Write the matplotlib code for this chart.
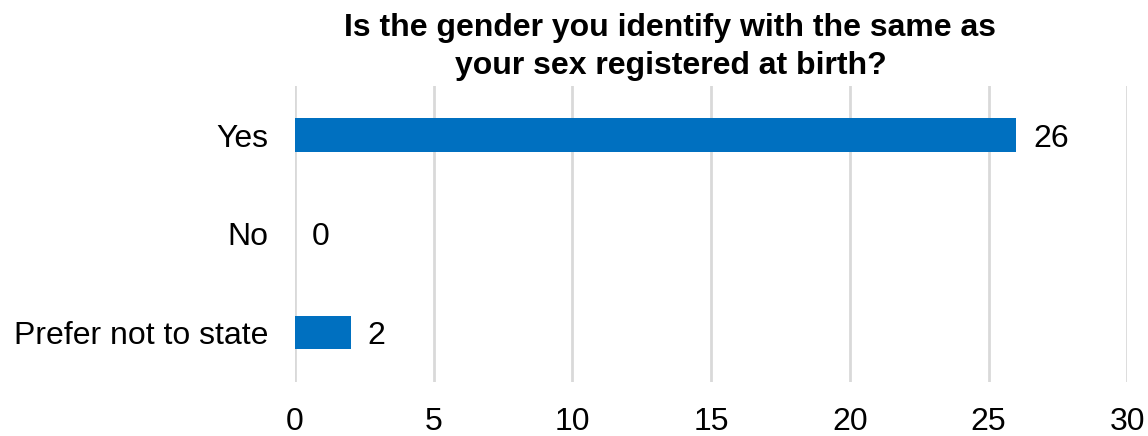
import matplotlib.pyplot as plt

plt.rcParams['font.family'] = ['Liberation Sans', 'DejaVu Sans']

# survey answers and counts
answers = ['Yes', 'No', 'Prefer not to state']
counts = [26, 0, 2]
xticks = [0, 5, 10, 15, 20, 25, 30]

fig = plt.figure(figsize=(11.48, 4.36), dpi=100)
ax = fig.add_axes([0.257, 0.124, 0.725, 0.679])

ypos = list(range(len(answers)))
bars = ax.barh(ypos, counts, height=0.34, color='#0070C0', zorder=3)

for y, v in zip(ypos, counts):
    ax.text(v + 0.6, y, str(v), va='center_baseline', ha='left', fontsize=23, color='#000000')

ax.set_ylim(len(answers) - 0.5, -0.5)
ax.set_xlim(0, 30)
ax.set_yticks(ypos)
ax.set_yticklabels(answers, fontsize=23)
ax.set_xticks(xticks)
ax.set_xticklabels([str(t) for t in xticks], fontsize=23)
ax.tick_params(axis='both', length=0)
ax.tick_params(axis='y', pad=19)
ax.tick_params(axis='x', pad=18)

ax.grid(axis='x', color='#D9D9D9', linewidth=2, zorder=0)
for s in ax.spines.values():
    s.set_visible(False)

fig.text(0.584, 0.892, 'Is the gender you identify with the same as\nyour sex registered at birth?',
         fontsize=23, fontweight='bold', ha='center', va='center', linespacing=1.35)

fig.savefig('out.png', dpi=100)
